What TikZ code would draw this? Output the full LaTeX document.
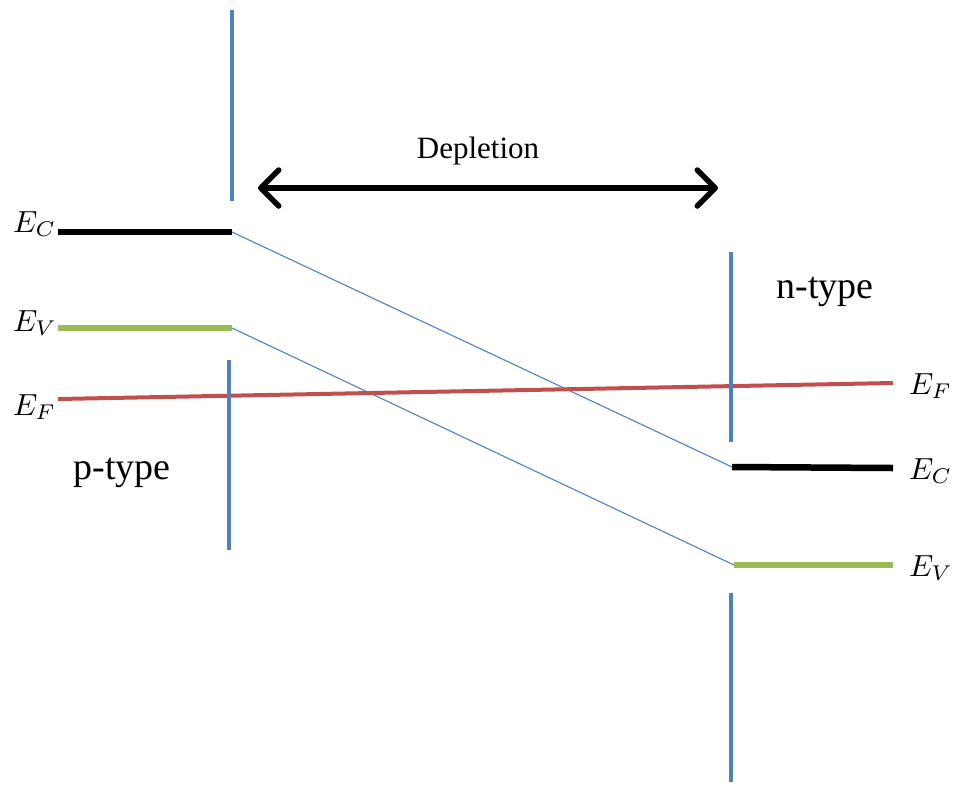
\documentclass[tikz,border=0pt]{standalone}
\usepackage{graphicx}
\usepackage{fontspec}
\setmainfont{Liberation Serif}
\usetikzlibrary{arrows.meta}
\definecolor{obl}{RGB}{79,129,189}
\definecolor{ogr}{RGB}{155,187,89}
\definecolor{ord}{RGB}{192,80,77}
\newcommand{\elabtxt}[1]{\scalebox{3.05}{$#1$}}
\tikzset{
  wall/.style={draw=obl,line width=4pt},
  band/.style={line width=6.5pt},
  slope/.style={draw=obl,line width=1.1pt},
  elab/.style={inner sep=0pt},
  typelab/.style={inner sep=0pt,font=\fontsize{38}{40}\selectfont},
}
\begin{document}
\begin{tikzpicture}[x=1pt,y=-1pt]
\useasboundingbox (0,0) rectangle (955,785);
% coordinates
\coordinate (wl1a) at (232,10);  \coordinate (wl1b) at (232,201);
\coordinate (wl2a) at (229,360); \coordinate (wl2b) at (229,550);
\coordinate (wr1a) at (731,252); \coordinate (wr1b) at (731,442);
\coordinate (wr2a) at (731,593); \coordinate (wr2b) at (731,782);
\coordinate (ecl0) at (58,232);  \coordinate (ecl1) at (232,232);
\coordinate (evl0) at (58,328);  \coordinate (evl1) at (232,328);
\coordinate (ecr0) at (732,467); \coordinate (ecr1) at (893,468);
\coordinate (evr0) at (734,565); \coordinate (evr1) at (893,565);
\coordinate (ef0) at (58,399);   \coordinate (ef1) at (893,383);
\coordinate (al) at (258,188);   \coordinate (ar) at (718,188);
% walls
\draw[wall] (wl1a) -- (wl1b);
\draw[wall] (wl2a) -- (wl2b);
\draw[wall] (wr1a) -- (wr1b);
\draw[wall] (wr2a) -- (wr2b);
% slopes
\draw[slope] (ecl1) -- (ecr0);
\draw[slope] (evl1) -- (evr0);
% Fermi level
\draw[draw=ord,line width=4pt] (ef0) -- (ef1);
% bands
\draw[band,draw=black] (ecl0) -- (ecl1);
\draw[band,draw=ogr] (evl0) -- (evl1);
\draw[band,draw=black] (ecr0) -- (ecr1);
\draw[band,draw=ogr] (evr0) -- (evr1);
% redraw walls crossing red line on top
\draw[wall] (229,375) -- (229,420);
\draw[wall] (731,365) -- (731,405);
% depletion arrow
\draw[line width=5.5pt,{Straight Barb[length=18pt,width=36pt,round]}-{Straight Barb[length=18pt,width=36pt,round]}] (al) -- (ar);
\node[inner sep=0pt,font=\fontsize{31}{33}\selectfont] (dep) at (478,151) {Depletion};
% labels
\node[typelab] (nt) at (825,292) {n-type};
\node[typelab] (pt) at (122,473) {p-type};
\node[elab,anchor=west] (lec) at (13,224) {\elabtxt{E_C}};
\node[elab,anchor=west] (lev) at (13,323) {\elabtxt{E_V}};
\node[elab,anchor=west] (lef) at (13,407) {\elabtxt{E_F}};
\node[elab,anchor=west] (ref) at (909,386) {\elabtxt{E_F}};
\node[elab,anchor=west] (rec) at (909,471) {\elabtxt{E_C}};
\node[elab,anchor=west] (rev) at (909,568) {\elabtxt{E_V}};
\end{tikzpicture}
\end{document}
